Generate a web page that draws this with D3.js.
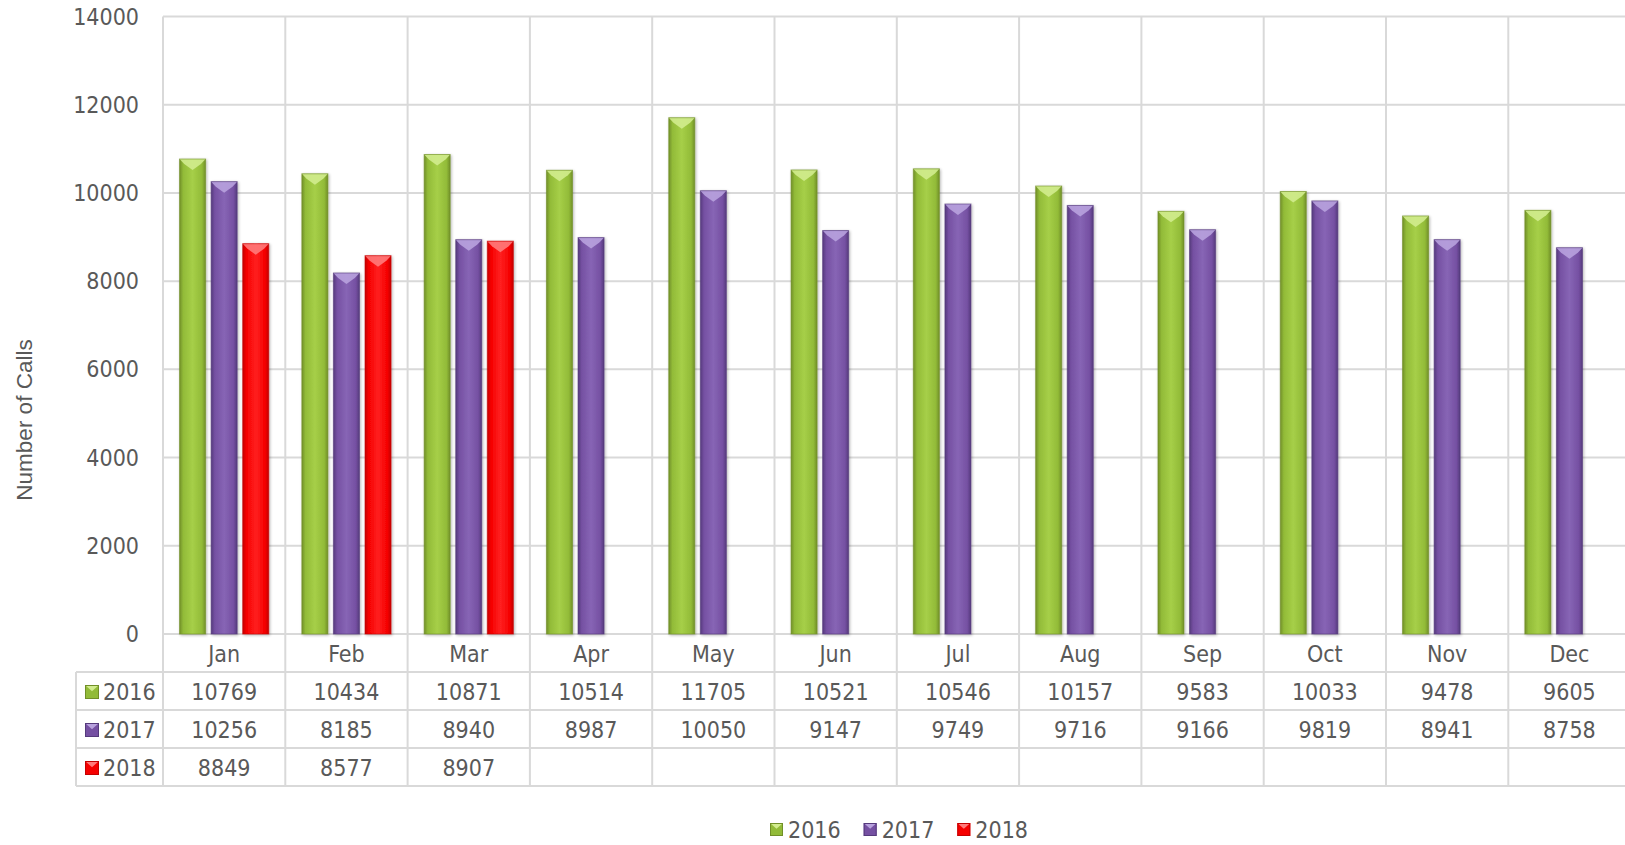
<!DOCTYPE html>
<html>
<head>
<meta charset="utf-8">
<title>Number of Calls</title>
<script src="https://cdn.jsdelivr.net/npm/d3@7"></script>
<style>
	body{
		margin:0;
		background:#fff;
		overflow:hidden;
	}
	.lbl{
		font-family:"DejaVu Sans Condensed","DejaVu Sans",sans-serif;
		font-stretch:condensed;
		font-size:23px;
		fill:#595959;
	}
	.ytitle{
		font-family:"Liberation Sans",Arial,sans-serif;
		font-size:22.5px;
		fill:#595959;
	}
</style>
</head>
<body>
<div id="chart"></div>
<script>

//DATA

var months = ["Jan","Feb","Mar","Apr","May","Jun","Jul","Aug","Sep","Oct","Nov","Dec"];
var years = ["2016","2017","2018"];
var calls2016 = [10769,10434,10871,10514,11705,10521,10546,10157,9583,10033,9478,9605];
var calls2017 = [10256,8185,8940,8987,10050,9147,9749,9716,9166,9819,8941,8758];
var calls2018 = [8849,8577,8907];
var yTicks = [0,2000,4000,6000,8000,10000,12000,14000];

var seriesValues = [calls2016, calls2017, calls2018];

//COLOURS: edge, body, centre, bevel top
var palette = {
	"2016": ["#718f28","#92bb38","#a6cf48","#d2ec8e"],
	"2017": ["#553a7c","#7550a2","#8765b5","#b8a2de"],
	"2018": ["#c40000","#f50000","#ff2020","#ff7a7a"]
};

//SETUP

var width = 1625;
var height = 845;
var plotLeft = 163;
var colW = 122.3;
var plotTop = 16.5;
var plotBottom = 634;
var rowH = 38;
var headLeft = 76;

var svg = d3.select("#chart").append("svg")
	.attr("width", width)
	.attr("height", height);

var defs = svg.append("defs");

years.forEach(function(yr){
	var c = palette[yr];
	var g = defs.append("linearGradient")
		.attr("id","grad" + yr)
		.attr("x1","0%").attr("x2","100%")
		.attr("y1","0%").attr("y2","0%");
	g.append("stop").attr("offset","0%").attr("stop-color",c[0]);
	g.append("stop").attr("offset","14%").attr("stop-color",c[1]);
	g.append("stop").attr("offset","50%").attr("stop-color",c[2]);
	g.append("stop").attr("offset","86%").attr("stop-color",c[1]);
	g.append("stop").attr("offset","100%").attr("stop-color",c[0]);
});

var shadow = defs.append("filter").attr("id","shadow")
	.attr("x","-30%").attr("y","-10%").attr("width","160%").attr("height","120%");
shadow.append("feGaussianBlur").attr("in","SourceAlpha").attr("stdDeviation",1.6).attr("result","b");
shadow.append("feOffset").attr("in","b").attr("dx",1).attr("dy",1).attr("result","o");
shadow.append("feComponentTransfer").attr("in","o").attr("result","s")
	.append("feFuncA").attr("type","linear").attr("slope",0.3);
var merge = shadow.append("feMerge");
merge.append("feMergeNode").attr("in","s");
merge.append("feMergeNode").attr("in","SourceGraphic");

var x = d3.scaleBand()
	.domain(months)
	.range([plotLeft, plotLeft + colW * months.length])
	.paddingInner(0)
	.paddingOuter(0);

var x1 = d3.scaleBand()
	.domain(years)
	.range([0, x.bandwidth()])
	.paddingInner(0.175)
	.paddingOuter(0.524);

var y = d3.scaleLinear()
	.domain([0, 14000])
	.range([plotBottom, plotTop]);

var gridColor = "#d9d9d9";

//GRID

var grid = svg.append("g");

grid.selectAll("line.h")
	.data(yTicks)
	.enter()
	.append("line")
	.attr("x1", plotLeft)
	.attr("x2", plotLeft + colW * months.length)
	.attr("y1", function(d){ return y(d); })
	.attr("y2", function(d){ return y(d); })
	.attr("stroke", gridColor)
	.attr("stroke-width", 2);

var vBounds = months.map(function(m){ return x(m); });
vBounds.push(x(months[months.length - 1]) + x.bandwidth());

grid.selectAll("line.v")
	.data(vBounds)
	.enter()
	.append("line")
	.attr("x1", function(d){ return d; })
	.attr("x2", function(d){ return d; })
	.attr("y1", plotTop)
	.attr("y2", plotBottom + rowH * 4)
	.attr("stroke", gridColor)
	.attr("stroke-width", 2);

//table horizontal lines
grid.selectAll("line.t")
	.data([1,2,3,4])
	.enter()
	.append("line")
	.attr("x1", headLeft)
	.attr("x2", plotLeft + colW * months.length)
	.attr("y1", function(d){ return plotBottom + rowH * d; })
	.attr("y2", function(d){ return plotBottom + rowH * d; })
	.attr("stroke", gridColor)
	.attr("stroke-width", 2);

grid.append("line")
	.attr("x1", headLeft).attr("x2", headLeft)
	.attr("y1", plotBottom + rowH).attr("y2", plotBottom + rowH * 4)
	.attr("stroke", gridColor)
	.attr("stroke-width", 2);

//Y AXIS LABELS

svg.append("g").selectAll("text")
	.data(yTicks)
	.enter()
	.append("text")
	.attr("class","lbl")
	.attr("x", 139)
	.attr("y", function(d){ return y(d); })
	.attr("dy","0.35em")
	.attr("text-anchor","end")
	.text(function(d){ return d; });

svg.append("text")
	.attr("class","ytitle")
	.attr("transform","translate(32,420) rotate(-90)")
	.attr("text-anchor","middle")
	.text("Number of Calls");

//BARS

function drawBar(sel, yr, bx, val){
	var w = x1.bandwidth();
	var top = y(val);
	var h = plotBottom - top;
	var c = palette[yr];
	var g = sel.append("g").attr("filter","url(#shadow)");
	g.append("rect")
		.attr("x", bx).attr("y", top)
		.attr("width", w).attr("height", h)
		.attr("fill","url(#grad" + yr + ")");
	//top bevel
	g.append("polygon")
		.attr("points", [
			[bx, top], [bx + w, top], [bx + w * 0.82, top + 5], [bx + w / 2, top + 11], [bx + w * 0.18, top + 5]
		].map(function(p){ return p.join(","); }).join(" "))
		.attr("fill", c[3])
		.attr("opacity", 0.9);
	g.append("rect")
		.attr("x", bx).attr("y", top)
		.attr("width", w).attr("height", h)
		.attr("fill","none")
		.attr("stroke", c[0])
		.attr("stroke-opacity", 0.6)
		.attr("stroke-width", 1);
}

var bars = svg.append("g");
years.forEach(function(yr, si){
	seriesValues[si].forEach(function(v, i){
		drawBar(bars, yr, x(months[i]) + x1(yr), v);
	});
});

//TABLE

svg.append("g").selectAll("text")
	.data(months)
	.enter()
	.append("text")
	.attr("class","lbl")
	.attr("x", function(d){ return x(d) + x.bandwidth() / 2; })
	.attr("y", plotBottom + rowH / 2 + 1)
	.attr("dy","0.35em")
	.attr("text-anchor","middle")
	.text(function(d){ return d; });

function marker(sel, yr, mx, my, s){
	var c = palette[yr];
	var g = sel.append("g");
	g.append("rect").attr("x", mx).attr("y", my).attr("width", s).attr("height", s).attr("fill", c[1]);
	g.append("polygon")
		.attr("points", [[mx, my], [mx + s, my], [mx + s / 2, my + s * 0.45]].map(function(p){ return p.join(","); }).join(" "))
		.attr("fill", c[3]);
	g.append("rect").attr("x", mx + 0.5).attr("y", my + 0.5).attr("width", s - 1).attr("height", s - 1)
		.attr("fill","none").attr("stroke", c[0]).attr("stroke-width", 1);
}

var table = svg.append("g");
years.forEach(function(yr, si){
	var cy = plotBottom + rowH * (si + 1) + rowH / 2 + 1;
	marker(table, yr, 85, cy - 7, 14);
	table.append("text")
		.attr("class","lbl")
		.attr("x", 103)
		.attr("y", cy)
		.attr("dy","0.35em")
		.text(yr);
	table.selectAll("text.v" + yr)
		.data(seriesValues[si])
		.enter()
		.append("text")
		.attr("class","lbl")
		.attr("x", function(d, i){ return x(months[i]) + x.bandwidth() / 2; })
		.attr("y", cy)
		.attr("dy","0.35em")
		.attr("text-anchor","middle")
		.text(function(d){ return d; });
});

//LEGEND

var legend = svg.append("g");
var lx = 770;
var ly = 829;
years.forEach(function(yr){
	marker(legend, yr, lx, ly - 6, 13);
	var t = legend.append("text")
		.attr("class","lbl")
		.attr("x", lx + 18)
		.attr("y", ly + 1)
		.attr("dy","0.35em")
		.text(yr);
	lx = lx + 18 + t.node().getComputedTextLength() + 23;
});

</script>
</body>
</html>
